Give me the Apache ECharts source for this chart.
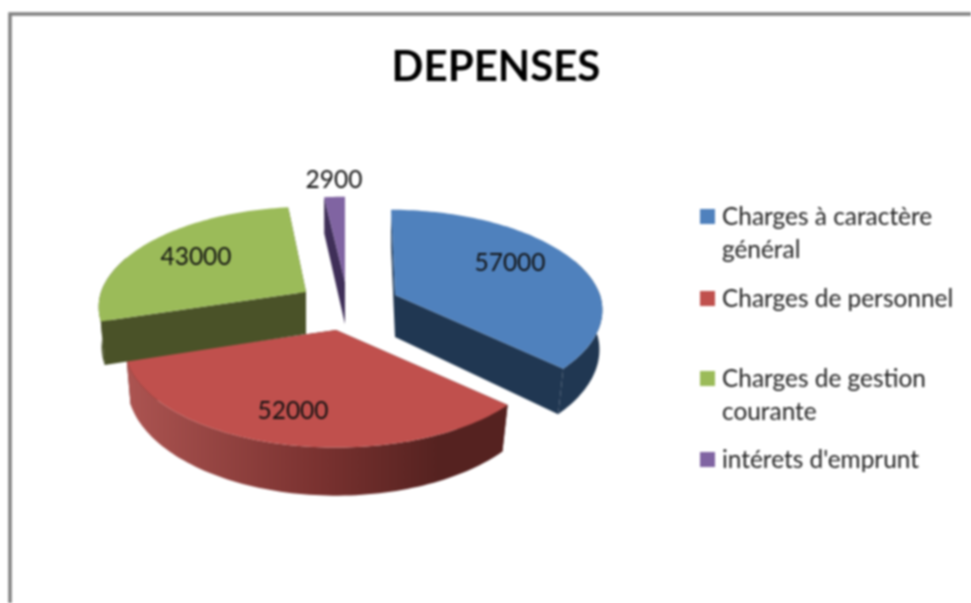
<!DOCTYPE html>
<html>
<head>
<meta charset="utf-8">
<style>
	html, body { margin: 0; padding: 0; background: #fff; overflow: hidden; }
	#pie { width: 971px; height: 603px; filter: blur(1px); }
</style>
<script src="https://cdn.jsdelivr.net/npm/echarts@6/dist/echarts.min.js"></script>
</head>
<body>
<div id="pie"></div>
<script>
const chartTitle = 'DEPENSES';
const categories = ['Charges à caractère\ngénéral', 'Charges de personnel', 'Charges de gestion\ncourante', "intérets d'emprunt"];
const amounts = [57000, 52000, 43000, 2900];

const topColors = ['#4f81bd', '#c0504d', '#9bbb59', '#8064a2'];
const sideColors = ['#203752', '#552220', '#4a5228', '#3f2f58'];
const drawOrder = [1, 2, 4, 3];
// where each exploded slice has its tip, and where its label sits from there
const tips = [[395, 295], [336, 330], [306, 292], [345, 282]];
const sliceScale = [1, 1.02, 1, 1];
const labelShift = [[115, -32], [-43, 81], [-110, -35], [-11, -102]];
const legendY = [217, 299, 379, 460];

const rx = 205, ry = 98, persp = 0.15;
const vanishX = 345;
const fontName = 'Lato, "Open Sans", sans-serif';

let total = amounts.reduce((a, b) => a + b, 0);

// angle clockwise from the back of the pie -> screen offset from the tip
function project(angle, bottom, i) {
	let u = Math.sin(angle), v = -Math.cos(angle);
	let p = 1 / (1 - persp * v);
	let x = rx * u * p, y = ry * v * p;
	if (bottom) {
		x *= 0.99 - 0.03 * Math.max(v, 0);
		y = y * 0.975 + 42 + 8 * v;
	}
	// back edges lean in towards the middle of the pie
	if (v < 0) x += (vanishX - tips[i][0]) * 0.08 * -v;
	return [x * sliceScale[i], y * sliceScale[i]];
}

function arcPoints(tip, from, to, bottom, i) {
	let pts = [];
	let n = Math.max(4, Math.ceil((to - from) * 40));
	for (let k = 0; k <= n; k++) {
		let o = project(from + (to - from) * k / n, bottom, i);
		pts.push([tip[0] + o[0], tip[1] + o[1]]);
	}
	return pts;
}

function face(points, fill, z2) {
	return { type: 'polygon', shape: { points: points }, style: { fill: fill }, z2: z2 };
}

function renderSlice(params, api) {
	let i = api.value(0);
	let before = 0;
	for (let k = 0; k < i; k++) before += amounts[k];
	let a0 = before / total * Math.PI * 2;
	let a1 = (before + api.value(1)) / total * Math.PI * 2;
	let tip = tips[i], z = drawOrder[i] * 10;
	let tipLow = [tip[0], tip[1] + 42];

	let side = sideColors[i];
	if (i === 1) {
		side = new echarts.graphic.LinearGradient(0, 0, 1, 0, [
			{ offset: 0, color: '#ac5451' },
			{ offset: 0.5, color: '#7a3230' },
			{ offset: 0.82, color: '#552220' },
			{ offset: 1, color: '#552220' }
		]);
	}

	let children = [];
	// two cut faces
	[a0, a1].forEach(a => {
		let t = project(a, false, i), b = project(a, true, i);
		children.push(face([tip, [tip[0] + t[0], tip[1] + t[1]], [tip[0] + b[0], tip[1] + b[1]], tipLow], sideColors[i], z));
	});
	// outer rim, only the part turned towards the viewer
	let rimFrom = Math.max(a0, Math.PI * 0.38), rimTo = Math.min(a1, Math.PI * 1.62);
	if (rimTo > rimFrom) {
		let topArc = arcPoints(tip, rimFrom, rimTo, false, i);
		let lowArc = arcPoints(tip, rimFrom, rimTo, true, i).reverse();
		children.push(face(topArc.concat(lowArc), side, z + 1));
	}
	// top face
	children.push(face([tip].concat(arcPoints(tip, a0, a1, false, i)), topColors[i], z + 2));
	children.push({
		type: 'text',
		x: tip[0] + labelShift[i][0],
		y: tip[1] + labelShift[i][1],
		z2: 100,
		style: {
			text: String(api.value(1)),
			fill: '#111',
			font: '24.5px ' + fontName,
			align: 'center',
			verticalAlign: 'middle'
		}
	});
	return { type: 'group', children: children };
}

let legendItems = [];
categories.forEach((name, i) => {
	legendItems.push({
		type: 'rect',
		shape: { x: 700, y: legendY[i] - 8, width: 15, height: 15 },
		style: { fill: topColors[i] }
	});
	legendItems.push({
		type: 'text',
		x: 722,
		y: legendY[i] - 16,
		style: { text: name, fill: '#222', font: '24.4px ' + fontName, lineHeight: 33 }
	});
});

let myChart = echarts.init(document.getElementById('pie'));
myChart.setOption({
	animation: false,
	backgroundColor: '#fff',
	title: {
		text: chartTitle,
		left: 491,
		top: 41,
		textAlign: 'center',
		textStyle: { fontFamily: fontName, fontSize: 42, fontWeight: 'bold', color: '#000' }
	},
	graphic: [
		{
			type: 'polyline',
			shape: { points: [[10, 603], [10, 14], [971, 14]] },
			style: { stroke: '#808080', lineWidth: 3.5, fill: null }
		}
	].concat(legendItems),
	series: [
		{
			type: 'custom',
			coordinateSystem: 'none',
			renderItem: renderSlice,
			data: amounts.map((v, i) => [i, v])
		}
	]
});
</script>
</body>
</html>
